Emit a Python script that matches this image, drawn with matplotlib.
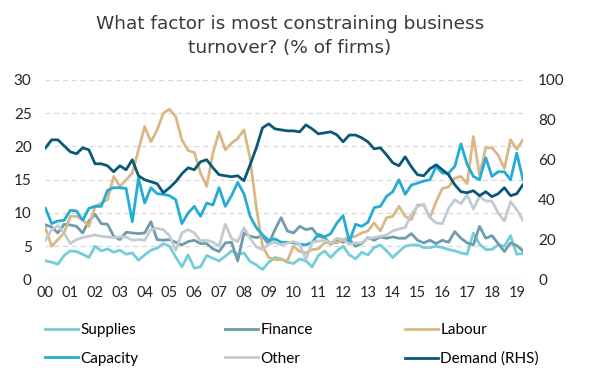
import matplotlib.pyplot as plt
import numpy as np

# quarterly, 2000Q1 .. 2019Q2
start_year = 2000
supplies = [2.8, 2.6, 2.3, 3.6, 4.3, 4.2, 3.8, 3.3, 5.0, 4.3, 4.6, 4.1, 4.4, 3.8, 4.0, 2.9, 3.7, 4.4, 4.7, 5.4,
            5.0, 3.4, 1.9, 3.7, 1.7, 1.9, 3.6, 3.2, 2.8, 3.5, 4.3, 3.8, 4.0, 2.7, 2.2, 1.5, 2.6, 3.3, 3.1, 2.6,
            2.4, 3.1, 2.8, 1.9, 3.6, 4.3, 3.3, 4.3, 5.0, 3.7, 3.1, 4.1, 3.7, 4.8, 5.2, 4.3, 3.3, 4.2, 5.0, 5.2,
            5.2, 4.8, 4.8, 5.0, 4.8, 4.5, 4.3, 4.0, 3.8, 7.0, 5.3, 4.5, 4.5, 5.2, 5.0, 6.6, 3.8, 3.9]
finance = [8.2, 7.9, 7.0, 8.3, 8.2, 8.0, 7.0, 8.8, 9.8, 8.4, 8.3, 6.5, 6.0, 7.1, 7.0, 6.9, 7.0, 8.7, 6.0, 5.9,
           6.0, 5.6, 5.2, 5.7, 5.9, 5.4, 5.4, 4.6, 4.2, 5.5, 5.6, 2.8, 7.0, 6.5, 6.3, 6.5, 5.3, 7.5, 9.3, 7.3,
           7.0, 8.0, 7.5, 7.7, 6.5, 6.3, 5.3, 6.0, 5.6, 6.0, 5.0, 5.4, 6.3, 5.9, 6.4, 6.2, 6.4, 6.2, 6.2, 6.9,
           5.9, 5.5, 5.9, 5.4, 5.9, 5.6, 7.2, 6.2, 5.5, 5.2, 8.0, 6.2, 6.6, 5.4, 4.2, 5.5, 5.1, 4.3]
labour = [7.75, 5.0, 6.0, 7.0, 9.5, 9.5, 9.0, 8.0, 11.0, 11.5, 12.0, 15.5, 14.0, 15.0, 16.0, 19.5, 23.0, 20.7, 22.5, 25.0,
          25.6, 24.5, 21.0, 19.4, 19.1, 16.0, 14.0, 19.0, 22.2, 19.5, 20.5, 21.2, 22.5, 18.2, 10.8, 5.0, 3.3, 3.0, 3.0, 2.8,
          5.0, 4.2, 4.0, 4.5, 4.6, 5.5, 5.5, 5.5, 6.0, 6.3, 6.5, 7.0, 7.3, 8.5, 7.3, 9.3, 9.5, 11.0, 9.5, 9.0,
          11.2, 11.2, 9.3, 11.7, 13.7, 13.9, 15.2, 15.5, 14.4, 21.5, 15.7, 19.8, 19.8, 18.7, 16.7, 21.0, 19.6, 21.0]
capacity = [10.7, 8.4, 8.8, 8.9, 10.4, 10.3, 8.9, 10.7, 11.0, 11.0, 13.4, 13.8, 13.8, 13.7, 8.7, 15.2, 11.5, 13.8, 12.9, 12.8,
            12.6, 12.0, 8.4, 10.0, 11.0, 9.5, 11.5, 11.2, 13.8, 11.0, 12.6, 14.6, 12.9, 9.5, 7.8, 6.7, 5.9, 6.1, 5.6, 5.6,
            5.5, 5.3, 5.2, 5.6, 6.8, 6.4, 6.9, 8.5, 9.6, 5.7, 8.3, 8.0, 8.6, 10.8, 11.0, 12.5, 13.2, 15.0, 12.8, 14.2,
            14.5, 14.8, 15.0, 17.0, 16.0, 16.0, 17.0, 20.4, 17.3, 15.5, 15.0, 18.3, 15.5, 16.2, 16.2, 15.0, 19.0, 15.0]
other = [5.9, 7.5, 8.1, 7.0, 5.4, 6.0, 6.3, 6.5, 6.7, 6.5, 6.4, 6.3, 6.4, 6.4, 5.9, 6.0, 5.9, 7.5, 7.7, 7.5,
         6.6, 4.4, 7.0, 7.5, 7.0, 5.8, 5.9, 5.6, 5.0, 8.3, 6.2, 5.7, 7.8, 6.2, 4.9, 4.5, 5.3, 5.6, 5.2, 5.5,
         5.7, 5.3, 3.0, 5.6, 5.8, 5.9, 5.5, 6.2, 6.0, 5.3, 5.5, 5.5, 6.2, 6.3, 6.5, 6.7, 7.3, 7.6, 7.8, 9.8,
         11.0, 11.3, 9.3, 8.5, 8.4, 10.7, 12.0, 11.4, 12.7, 10.6, 12.5, 11.8, 11.8, 10.0, 8.8, 11.7, 10.5, 8.9]
demand = [66, 70, 70, 67, 64, 63, 66, 65, 58, 58, 57, 54, 57, 55, 60, 52, 50, 49, 48, 43.5,
          46, 49, 53, 56, 55, 59, 60, 56, 52.5, 52, 51.5, 52, 49.5, 57.5, 66, 76, 78, 75.5, 75, 74.5,
          74.5, 74, 77.5, 75.5, 73, 73.5, 74, 72.5, 69, 72.4, 72.4, 71, 69, 65.5, 66, 62.5, 58.5, 57, 61.5, 56.5,
          52.5, 52, 55.5, 57.5, 55, 52.5, 47.5, 44, 43.5, 44.5, 42, 44, 41.5, 43, 46, 42, 43, 47.5]

tick_years = list(range(2000, 2020))
tick_labels = ['%02d' % (y % 100) for y in tick_years]

plt.rcParams['font.family'] = ['Lato', 'DejaVu Sans']

x = start_year + np.arange(len(demand)) * 0.25

fig = plt.figure(figsize=(6, 3.78), dpi=100)
ax = fig.add_axes([0.0758, 0.2606, 0.7958, 0.5278])
ax2 = ax.twinx()

lw = 2.0
l1, = ax.plot(x, supplies, color='#74cdd8', lw=lw, label='Supplies')
l2, = ax.plot(x, finance, color='#6e9cad', lw=lw, label='Finance')
l3, = ax.plot(x, labour, color='#d9b886', lw=lw, label='Labour')
l4, = ax.plot(x, capacity, color='#24acd4', lw=lw, label='Capacity')
l5, = ax.plot(x, other, color='#c4cbd0', lw=lw, label='Other')
l6, = ax2.plot(x, demand, color='#0a5878', lw=lw, label='Demand (RHS)')

ax.set_xlim(2000, 2019.25)
ax.set_ylim(0, 30)
ax2.set_ylim(0, 100)
ax.set_yticks(range(0, 31, 5))
ax2.set_yticks(range(0, 101, 20))
ax.set_xticks(tick_years)
ax.set_xticklabels(tick_labels)

for a in (ax, ax2):
    for s in a.spines.values():
        s.set_visible(False)
    a.tick_params(length=0, labelsize=11, labelcolor='#262626')
ax.tick_params(axis='y', pad=10)
ax2.tick_params(axis='y', pad=11)
ax.tick_params(axis='x', pad=5, labelsize=10.5)

for v in range(5, 31, 5):
    ax.axhline(v, color='#d9d9d9', lw=0.9, ls=(0, (4, 3)), zorder=0)
ax.axhline(0, color='#d9d9d9', lw=1.0, zorder=0)

fig.text(0.483, 0.905, 'What factor is most constraining business\nturnover? (% of firms)',
         ha='center', va='center', fontsize=13.3, color='#3a3a3a', linespacing=1.45,
         family='DejaVu Sans')

# legend: three columns of two
cols = [(l1, l4), (l2, l5), (l3, l6)]
xs = [0.075, 0.375, 0.675]
for (a, b), xp in zip(cols, xs):
    fig.legend([a, b], [a.get_label(), b.get_label()], loc='upper left',
               bbox_to_anchor=(xp, 0.145), frameon=False, fontsize=11,
               handlelength=2.15, handletextpad=0.15, labelspacing=0.95,
               borderpad=0, borderaxespad=0)

fig.savefig('out.png', dpi=100)
